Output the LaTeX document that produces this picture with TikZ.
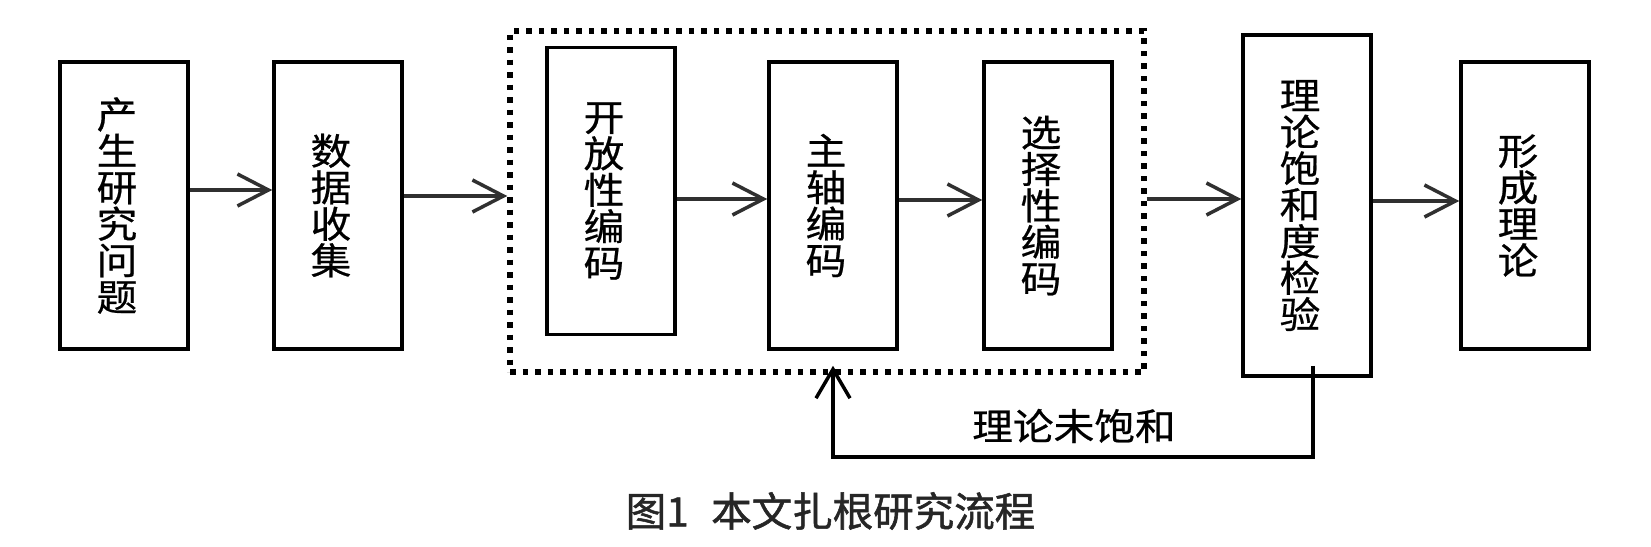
\documentclass[tikz,border=0pt]{standalone}
\usepackage{fontspec}
\usetikzlibrary{arrows.meta,calc}
\newfontfamily\cjkwide[FakeStretch=1.1,FakeBold=0.6]{Noto Sans CJK SC}
\newfontfamily\cjkcap[FakeBold=1.3]{Noto Sans CJK SC}
\definecolor{arrgray}{HTML}{303030}
\definecolor{capgray}{HTML}{262626}
\newcommand{\vcol}[1]{\hspace*{-14pt}\parbox{46pt}{\centering #1}}
\tikzset{
  stepbox/.style={draw=black, line width=3.5pt, minimum width=128pt, minimum height=287pt,
    inner sep=0pt, font=\cjkwide\fontsize{37}{36.5}\selectfont},
  arr/.style={draw=arrgray, line width=4pt,
    -{Straight Barb[length=31pt,width=32pt,line width=3.5pt]}},
  fb/.style={draw=black, line width=4pt,
    -{Straight Barb[length=29pt,width=34pt,line width=3.5pt]}},
  framebox/.style={draw=black, line width=5.5pt, dash pattern=on 5.5pt off 7pt,
    minimum width=634pt, minimum height=341pt, inner sep=0pt},
}
\begin{document}
\begin{tikzpicture}[x=1pt,y=-1pt]
\useasboundingbox[fill=white] (0,0) rectangle (1651,546);

\node[framebox] (frame) at (827,201.5) {};

\node[stepbox] (b1) at (124,205.5) {\vcol{产\\生\\研\\究\\问\\题}};
\node[stepbox] (b2) at (338,205.5) {\vcol{数\\据\\收\\集}};
\node[stepbox] (b3) at (611,191) {\vcol{开\\放\\性\\编\\码}};
\node[stepbox] (b4) at (833,205.5) {\vcol{主\\轴\\编\\码}};
\node[stepbox] (b5) at (1048,205.5) {\vcol{选\\择\\性\\编\\码}};
\node[stepbox, minimum height=341pt] (b6) at (1307,205.5) {\vcol{理\\论\\饱\\和\\度\\检\\验}};
\node[stepbox] (b7) at (1525,205.5) {\vcol{形\\成\\理\\论}};

\draw[arr] ([yshift=15.5pt]b1.east) -- ([yshift=15.5pt]b2.west);
\draw[arr] ([yshift=9.5pt]b2.east) -- ([yshift=9.5pt]b2.east -| frame.west);
\draw[arr] ([yshift=-8pt]b3.east) -- ([yshift=-8pt]b3.east -| b4.west);
\draw[arr] ([yshift=5.5pt]b4.east) -- ([yshift=5.5pt]b5.west);
\draw[arr] ([yshift=6.5pt]b6.west -| frame.east) -- ([yshift=6.5pt]b6.west);
\draw[arr] ([yshift=4.5pt]b6.east) -- ([yshift=4.5pt]b7.west);

\coordinate (fbtip) at ([yshift=9pt]frame.south -| b4.south);
\draw[fb] ([xshift=6pt,yshift=12pt]b6.south) -- ++(0,91) -| (fbtip);

\node[font=\cjkwide\fontsize{37}{40}\selectfont, inner sep=0pt] (lbl) at (1074,426) {理论未饱和};

\node[font=\cjkcap\fontsize{40.5}{44}\selectfont, text=capgray, inner sep=0pt] (cap) at (830.5,511)
  {图1\hspace{22.5pt}本文扎根研究流程};
\end{tikzpicture}
\end{document}
